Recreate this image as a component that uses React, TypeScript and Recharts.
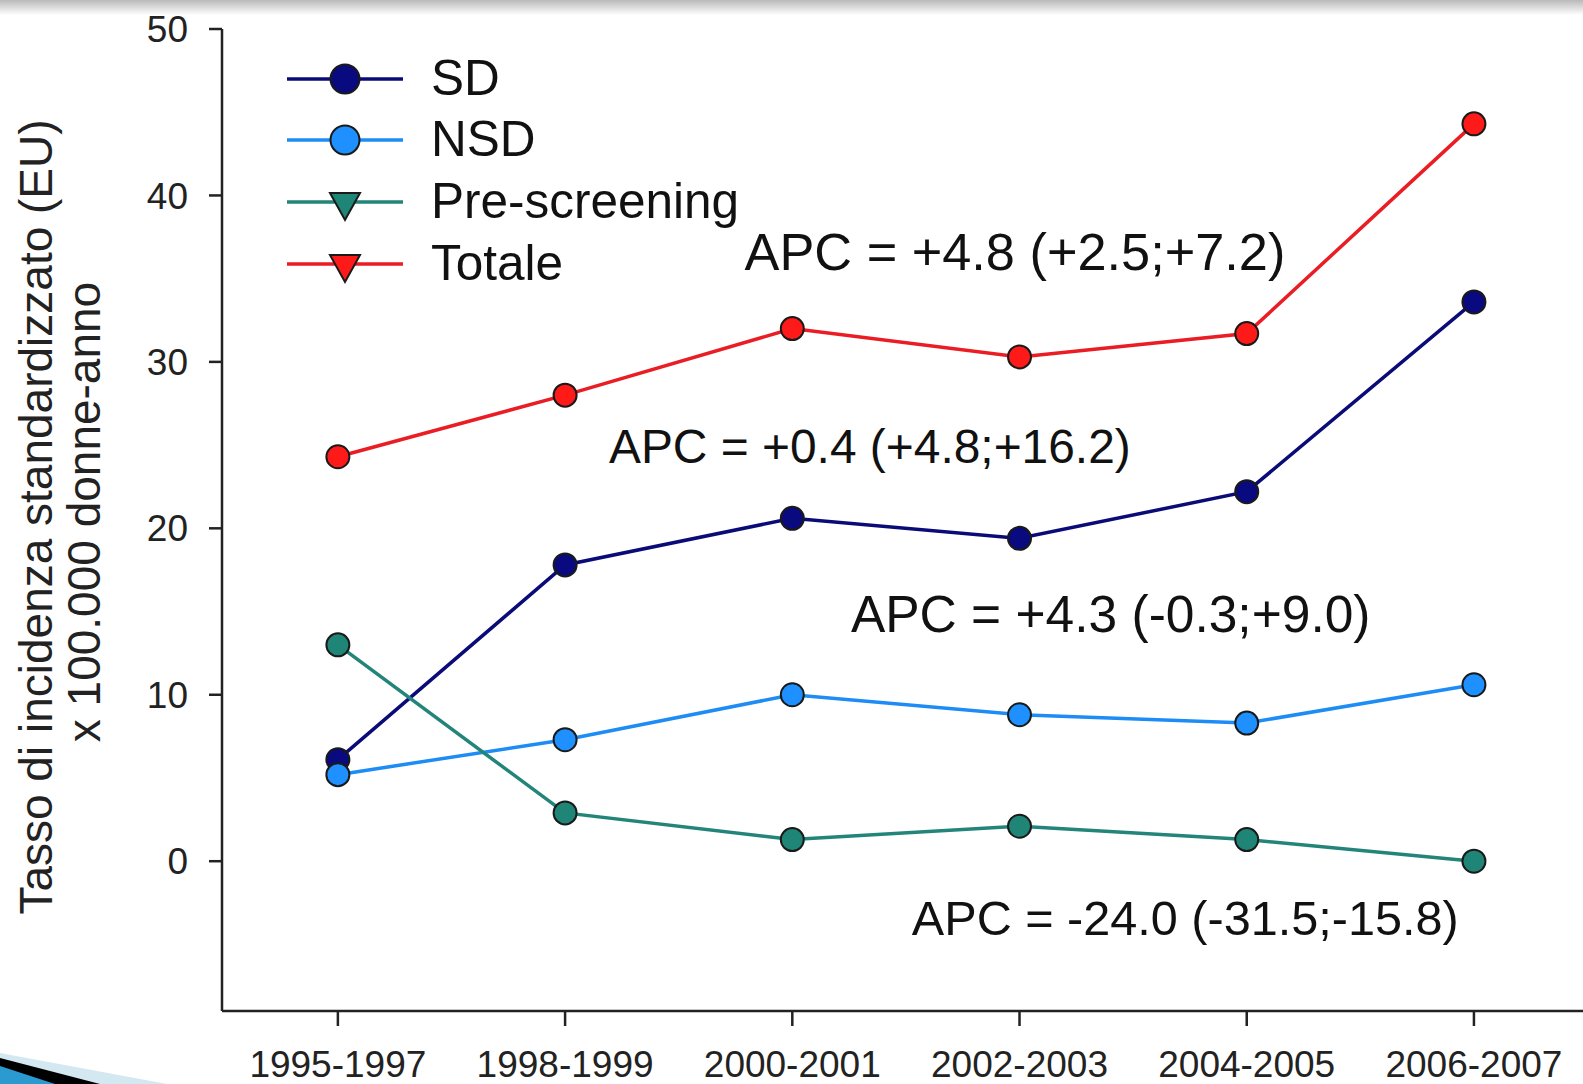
import React from 'react';
import { LineChart, Line, XAxis, YAxis, ReferenceDot } from 'recharts';

const periods = ['1995-1997', '1998-1999', '2000-2001', '2002-2003', '2004-2005', '2006-2007'];
const sdValues = [6.1, 17.8, 20.6, 19.4, 22.2, 33.6];
const nsdValues = [5.2, 7.3, 10.0, 8.8, 8.3, 10.6];
const preValues = [13.0, 2.9, 1.3, 2.1, 1.3, 0.0];
const totValues = [24.3, 28.0, 32.0, 30.3, 31.7, 44.3];
const yTicks = [0, 10, 20, 30, 40, 50];

const series = [
  { key: 'sd', name: 'SD', line: '#0b0b78', fill: '#0a0a80', legendShape: 'circle' },
  { key: 'nsd', name: 'NSD', line: '#1e8cf5', fill: '#1e90ff', legendShape: 'circle' },
  { key: 'pre', name: 'Pre-screening', line: '#23857a', fill: '#1f8577', legendShape: 'triangle' },
  { key: 'tot', name: 'Totale', line: '#ea1c24', fill: '#ff1a1a', legendShape: 'triangle' },
];

const annotations = [
  { x: 1.79, y: 35.5, text: 'APC = +4.8 (+2.5;+7.2)', size: 52.3 },
  { x: 1.193, y: 23.9, text: 'APC = +0.4 (+4.8;+16.2)', size: 47.9 },
  { x: 2.258, y: 13.76, text: 'APC = +4.3 (-0.3;+9.0)', size: 51.5 },
  { x: 2.526, y: -4.45, text: 'APC = -24.0 (-31.5;-15.8)', size: 48.6 },
];

const data = periods.map((p, i) => ({
  idx: i,
  label: p,
  sd: sdValues[i],
  nsd: nsdValues[i],
  pre: preValues[i],
  tot: totValues[i],
}));

const FONT = '"Liberation Sans", Arial, Helvetica, sans-serif';

const annShape = (text: string, size: number) => (props: any) => (
  <text x={props.cx} y={props.cy} fontFamily={FONT} fontSize={size} fill="#111" textAnchor="start">
    {text}
  </text>
);

const legendRows = [79, 140, 202, 264];

export default function App() {
  return (
    <div style={{ position: 'absolute', left: 0, top: 0, width: 1583, height: 1084, background: '#fff', overflow: 'hidden' }}>
      <div style={{ position: 'absolute', left: 0, top: 0, width: 1583, height: 15, background: 'linear-gradient(#b9b9b9, #ffffff)' }} />
      <LineChart
        width={1583}
        height={1084}
        data={data}
        margin={{ top: 29, right: 0, bottom: 0, left: 0 }}
        style={{ position: 'absolute', left: 0, top: 0 }}
      >
        <XAxis
          type="number"
          dataKey="idx"
          domain={[-0.51, 5.48]}
          ticks={[0, 1, 2, 3, 4, 5]}
          tickFormatter={(v: number) => periods[v] ?? ''}
          allowDataOverflow
          height={73}
          tickSize={15}
          tickMargin={25}
          axisLine={{ stroke: '#222', strokeWidth: 2.5 }}
          tickLine={{ stroke: '#222', strokeWidth: 2.5 }}
          tick={{ fill: '#222', fontSize: 37, fontFamily: FONT }}
          interval={0}
        />
        <YAxis
          type="number"
          domain={[-9, 50]}
          ticks={yTicks}
          allowDataOverflow
          width={222}
          tickSize={13}
          tickMargin={21}
          axisLine={{ stroke: '#222', strokeWidth: 2.5 }}
          tickLine={{ stroke: '#222', strokeWidth: 2.5 }}
          tick={{ fill: '#222', fontSize: 37, fontFamily: FONT }}
        />
        {series.map((s) => (
          <Line
            key={s.key}
            type="linear"
            dataKey={s.key}
            name={s.name}
            stroke={s.line}
            strokeWidth={3.5}
            dot={{ r: 11.5, fill: s.fill, stroke: '#1a1a1a', strokeWidth: 2 }}
            activeDot={false}
            isAnimationActive={false}
          />
        ))}
        {annotations.map((a, i) => (
          <ReferenceDot key={i} x={a.x} y={a.y} r={0} shape={annShape(a.text, a.size)} />
        ))}
      </LineChart>
      <svg width={1583} height={1084} style={{ position: 'absolute', left: 0, top: 0, pointerEvents: 'none' }}>
        <text
          transform="translate(52,517) rotate(-90)"
          textAnchor="middle"
          fontFamily={FONT}
          fontSize={46}
          fill="#222"
        >
          Tasso di incidenza standardizzato (EU)
        </text>
        <text
          transform="translate(100,512) rotate(-90)"
          textAnchor="middle"
          fontFamily={FONT}
          fontSize={46}
          fill="#222"
        >
          x 100.000 donne-anno
        </text>
        {series.map((s, i) => {
          const y = legendRows[i];
          return (
            <g key={s.key}>
              <line x1={287} x2={403} y1={y} y2={y} stroke={s.line} strokeWidth={3.5} />
              {s.legendShape === 'circle' ? (
                <circle cx={345} cy={y} r={14.5} fill={s.fill} stroke="#1a1a1a" strokeWidth={2} />
              ) : (
                <polygon
                  points={`${330},${y - 9} ${360},${y - 9} ${345},${y + 18}`}
                  fill={s.fill}
                  stroke="#1a1a1a"
                  strokeWidth={2}
                />
              )}
              <text x={431} y={y + 16} fontFamily={FONT} fontSize={49.5} fill="#111">
                {s.name}
              </text>
            </g>
          );
        })}
        <polygon points="0,1053 167,1084 0,1084" fill="#d3e8f1" />
        <polygon points="0,1058 100,1084 0,1084" fill="#000" />
        <polygon points="0,1066 55,1084 0,1084" fill="#2a9ad0" />
      </svg>
    </div>
  );
}
